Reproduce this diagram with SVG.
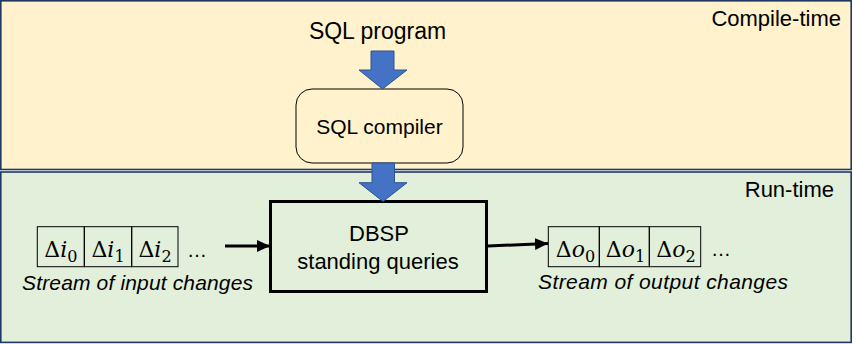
<svg xmlns="http://www.w3.org/2000/svg" width="853" height="344" viewBox="0 0 853 344">
<style>
.panel{stroke:#1F3864;stroke-width:1.6}
.lbl{font-family:"Liberation Sans",Arial,sans-serif;fill:#000}
.math{font-family:"DejaVu Serif","Liberation Serif",serif;font-size:22px;fill:#000}
.cell{fill:none;stroke:#000;stroke-width:1}
.blk{fill:#4472C4;stroke:#2F528F;stroke-width:1}
.conn{stroke:#000;stroke-width:3;fill:none}
</style>
<defs>
<marker id="ah" markerUnits="userSpaceOnUse" markerWidth="14" markerHeight="12" refX="13" refY="6" orient="auto">
<path d="M0,0 L13,6 L0,12 Z" fill="#000"/>
</marker>
</defs>
<g id="compile-panel">
<rect class="panel" x="0.8" y="0.8" width="850.4" height="168.7" fill="#FFF2CC"/>
<text class="lbl" x="841" y="26" font-size="22" text-anchor="end">Compile-time</text>
</g>
<g id="run-panel">
<rect class="panel" x="0.8" y="172" width="850.4" height="170.4" fill="#E2EFDA"/>
<text class="lbl" x="834" y="197" font-size="22" text-anchor="end">Run-time</text>
</g>
<g id="sql-program">
<text class="lbl" x="377.5" y="39" font-size="23" text-anchor="middle">SQL program</text>
</g>
<g id="sql-compiler">
<rect x="296" y="89" width="167" height="74" rx="16" ry="16" fill="#FFF2CC" stroke="#000" stroke-width="1"/>
<text class="lbl" x="379.5" y="134" font-size="21" text-anchor="middle">SQL compiler</text>
</g>
<g id="dbsp">
<rect x="270.5" y="201.5" width="216" height="90" fill="#E2EFDA" stroke="#000" stroke-width="3"/>
<text class="lbl" x="379" y="241" font-size="22" text-anchor="middle">DBSP</text>
<text class="lbl" x="378" y="269" font-size="22" text-anchor="middle">standing queries</text>
</g>
<g id="input-stream">
<rect class="cell" x="37.3" y="226.7" width="47" height="40"/>
<rect class="cell" x="84.3" y="226.7" width="47.4" height="40"/>
<rect class="cell" x="131.7" y="226.7" width="46.3" height="40"/>
<text class="math" x="60.8" y="257" text-anchor="middle">Δ<tspan font-style="italic">i</tspan><tspan font-size="16" dy="5">0</tspan></text>
<text class="math" x="108" y="257" text-anchor="middle">Δ<tspan font-style="italic">i</tspan><tspan font-size="16" dy="5">1</tspan></text>
<text class="math" x="155" y="257" text-anchor="middle">Δ<tspan font-style="italic">i</tspan><tspan font-size="16" dy="5">2</tspan></text>
<text class="lbl" x="187" y="257" font-size="20">…</text>
<text class="lbl" x="137.5" y="290" font-size="21" font-style="italic" text-anchor="middle" textLength="231">Stream of input changes</text>
</g>
<g id="output-stream">
<rect class="cell" x="548.3" y="226.7" width="51" height="40"/>
<rect class="cell" x="599.3" y="226.7" width="50" height="40"/>
<rect class="cell" x="649.3" y="226.7" width="51.4" height="40"/>
<text class="math" x="575.5" y="257" text-anchor="middle">Δ<tspan font-style="italic">o</tspan><tspan font-size="16" dy="5">0</tspan></text>
<text class="math" x="625.5" y="257" text-anchor="middle">Δ<tspan font-style="italic">o</tspan><tspan font-size="16" dy="5">1</tspan></text>
<text class="math" x="676" y="257" text-anchor="middle">Δ<tspan font-style="italic">o</tspan><tspan font-size="16" dy="5">2</tspan></text>
<text class="lbl" x="711" y="256" font-size="20">…</text>
<text class="lbl" x="663" y="289" font-size="21" font-style="italic" text-anchor="middle" textLength="250">Stream of output changes</text>
</g>
<g id="connectors">
<path class="blk" d="M371,51 L394,51 L394,70 L407,70 L382.5,89 L359,70 L371,70 Z"/>
<path class="blk" d="M372,163 L394.5,163 L394.5,182.7 L407,182.7 L383,201.5 L359,182.7 L372,182.7 Z"/>
<line class="conn" x1="225" y1="246" x2="270" y2="246" marker-end="url(#ah)"/>
<line class="conn" x1="488" y1="246" x2="548" y2="243.5" marker-end="url(#ah)"/>
</g>
</svg>
